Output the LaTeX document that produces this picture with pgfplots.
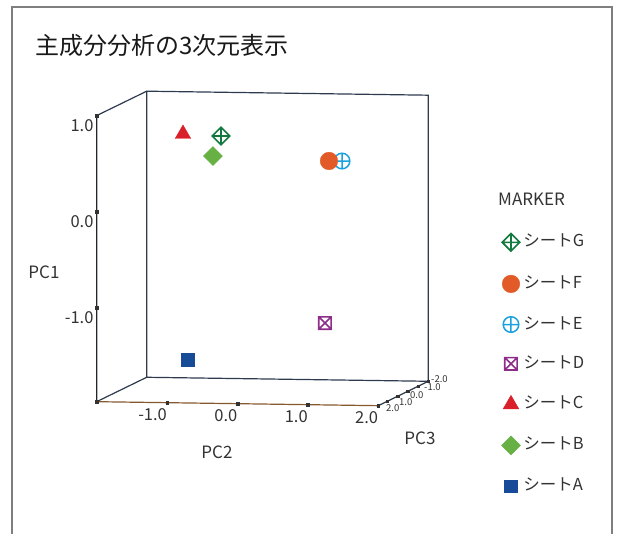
\documentclass[border=0pt]{standalone}
\usepackage{pgfplots}
\pgfplotsset{compat=1.18}
\usepackage{fontspec}
\setmainfont{Noto Sans CJK JP}
\usetikzlibrary{calc}

\definecolor{cA}{HTML}{174A97}
\definecolor{cB}{HTML}{66B044}
\definecolor{cC}{HTML}{D9202A}
\definecolor{cD}{HTML}{8E2C8A}
\definecolor{cE}{HTML}{1BA1DD}
\definecolor{cF}{HTML}{E15A27}
\definecolor{cG}{HTML}{137A3F}
\definecolor{boxc}{HTML}{2E3A4E}
\definecolor{txt}{HTML}{333333}
\definecolor{framec}{HTML}{7F7F7F}

\pgfdeclareplotmark{dplus}{%
  \pgfpathmoveto{\pgfqpoint{0pt}{\pgfplotmarksize}}%
  \pgfpathlineto{\pgfqpoint{\pgfplotmarksize}{0pt}}%
  \pgfpathlineto{\pgfqpoint{0pt}{-\pgfplotmarksize}}%
  \pgfpathlineto{\pgfqpoint{-\pgfplotmarksize}{0pt}}%
  \pgfpathclose
  \pgfpathmoveto{\pgfqpoint{0pt}{\pgfplotmarksize}}%
  \pgfpathlineto{\pgfqpoint{0pt}{-\pgfplotmarksize}}%
  \pgfpathmoveto{\pgfqpoint{\pgfplotmarksize}{0pt}}%
  \pgfpathlineto{\pgfqpoint{-\pgfplotmarksize}{0pt}}%
  \pgfusepathqstroke}
\pgfdeclareplotmark{sqx}{%
  \pgfpathrectangle{\pgfqpoint{-\pgfplotmarksize}{-\pgfplotmarksize}}{\pgfqpoint{2\pgfplotmarksize}{2\pgfplotmarksize}}%
  \pgfpathmoveto{\pgfqpoint{-\pgfplotmarksize}{-\pgfplotmarksize}}%
  \pgfpathlineto{\pgfqpoint{\pgfplotmarksize}{\pgfplotmarksize}}%
  \pgfpathmoveto{\pgfqpoint{-\pgfplotmarksize}{\pgfplotmarksize}}%
  \pgfpathlineto{\pgfqpoint{\pgfplotmarksize}{-\pgfplotmarksize}}%
  \pgfusepathqstroke}

\pgfplotsset{
  mA/.style={only marks, mark=square*, mark size=6.4pt, color=cA},
  mB/.style={only marks, mark=square*, mark size=6.7pt, mark options={rotate=45}, color=cB},
  mC/.style={only marks, mark=triangle*, mark size=9pt, color=cC},
  mD/.style={only marks, mark=sqx, mark size=6.2pt, mark options={line width=1.6pt}, color=cD},
  mE/.style={only marks, mark=oplus, mark size=7.8pt, mark options={line width=1.5pt}, color=cE},
  mF/.style={only marks, mark=*, mark size=8.8pt, mark options={draw=cF, fill=cF}, color=cF},
  mG/.style={only marks, mark=dplus, mark size=8.8pt, mark options={line width=1.6pt}, color=cG},
}

\begin{document}
\begin{tikzpicture}
% ---------- 3D plot: x = PC2, y = PC3 (depth), z = PC1 ----------
\begin{axis}[
  x={(70.4pt,-1.0pt)}, y={(-10.25pt,-5.0pt)}, z={(0pt,96pt)},
  xmin=-2, xmax=2, ymin=-2, ymax=2.88, zmin=-1.98, zmax=1,
  hide axis, clip=false,
]
\coordinate (O) at (axis cs:0,0,0);
% box (background planes)
\addplot3[boxc, line width=1.2pt, mark=none] coordinates {
  (-2,-2,-1.98) (2,-2,-1.98) (2,-2,1) (-2,-2,1) (-2,-2,-1.98)};
\addplot3[boxc, line width=1.2pt, mark=none] coordinates {
  (-2,-2,1) (-2,2.88,1) (-2,2.88,-1.98) (-2,-2,-1.98)};
\addplot3[black!85, line width=1.2pt, mark=none] coordinates {
  (-2,2.88,1) (-2,2.88,-1.98)};
\addplot3[boxc, line width=1.2pt, mark=none] coordinates {
  (2,2.88,-1.98) (2,-2,-1.98)};
\addplot3[brown!70!black, line width=1.2pt, mark=none] coordinates {
  (-2,2.88,-1.98) (2,2.88,-1.98)};
% tick marks
\addplot3[only marks, mark=square*, mark size=1.3pt, color=black!80] coordinates {
  (-2,2.88,1) (-2,2.88,0) (-2,2.88,-1) (-2,2.88,-1.98)
  (-1,2.88,-1.98) (0,2.88,-1.98) (1,2.88,-1.98) (2,2.88,-1.98)
  (2,2,-1.98) (2,1,-1.98) (2,0,-1.98) (2,-1,-1.98) (2,-2,-1.98)};
% tick labels
\begin{scope}[every node/.style={font=\fontsize{16.5}{18}\selectfont, text=txt, inner sep=0pt}]
\node[anchor=north east] at ($(axis cs:-2,2.88,1)+(-3pt,-4pt)$) {1.0};
\node[anchor=north east] at ($(axis cs:-2,2.88,0)+(-3pt,-4pt)$) {0.0};
\node[anchor=north east] at ($(axis cs:-2,2.88,-1)+(-3pt,-4pt)$) {-1.0};
\node[anchor=north east] at ($(axis cs:-1,2.88,-1.98)+(0pt,-6pt)$) {-1.0};
\node[anchor=north east] at ($(axis cs:0,2.88,-1.98)+(0pt,-6pt)$) {0.0};
\node[anchor=north east] at ($(axis cs:1,2.88,-1.98)+(0pt,-6pt)$) {1.0};
\node[anchor=north east] at ($(axis cs:2,2.88,-1.98)+(0pt,-6pt)$) {2.0};
\end{scope}
% data (PC2, PC3, PC1)
\addplot3[mA] coordinates {(-0.903,1.5,-1.606)};
\addplot3[mB] coordinates {(-0.840,-0.5,0.415)};
\addplot3[mC] coordinates {(-1.077,0.8,0.710)};
\addplot3[mD] coordinates {(0.678,-1.0,-1.335)};
\addplot3[mE] coordinates {(1.240,1.2,0.473)};
\addplot3[mF] coordinates {(1.026,1.0,0.461)};
\addplot3[mG] coordinates {(-0.828,-1.2,0.587)};
\end{axis}

% ---------- overlay: frame, title, labels, legend (pixel coordinates, y up) ----------
\begin{axis}[
  at={($(O)+(-267pt,-334.8pt)$)}, anchor=south west,
  scale only axis, width=617pt, height=534pt,
  xmin=0, xmax=617, ymin=0, ymax=534,
  hide axis, clip=false,
  legend cell align=left,
  legend style={
    at={(0.8128,0.5627)}, anchor=north west,
    draw=none, fill=none, inner sep=0pt, outer sep=0pt,
    row sep=24pt, column sep=3pt,
    font=\fontsize{16.5}{18}\selectfont, text=txt,
    nodes={inner sep=0pt, text height=12pt, text depth=3pt},
  },
]
\addlegendimage{mG}\addlegendentry{シートG}
\addlegendimage{mF}\addlegendentry{シートF}
\addlegendimage{mE}\addlegendentry{シートE}
\addlegendimage{mD}\addlegendentry{シートD}
\addlegendimage{mC}\addlegendentry{シートC}
\addlegendimage{mB}\addlegendentry{シートB}
\addlegendimage{mA}\addlegendentry{シートA}
\draw[framec, line width=1.5pt] (axis cs:12,0) -- (axis cs:12,527) -- (axis cs:612,527) -- (axis cs:612,0);
\node[anchor=west, inner sep=0pt, text=black!90, font=\fontsize{24}{27}\selectfont] at (axis cs:35,489) {主成分分析の3次元表示};
\node[anchor=west, inner sep=0pt, text=txt, font=\fontsize{17}{19}\selectfont] at (axis cs:498,335) {MARKER};
\node[inner sep=0pt, text=txt, font=\fontsize{17}{19}\selectfont] at (axis cs:44,262) {PC1};
\node[inner sep=0pt, text=txt, font=\fontsize{17}{19}\selectfont] at (axis cs:217,82) {PC2};
\node[inner sep=0pt, text=txt, font=\fontsize{17}{19}\selectfont] at (axis cs:420,96) {PC3};
% PC3 tick labels (small, crowded as in the reference)
\begin{scope}[every node/.style={font=\fontsize{9.5}{10}\selectfont, text=txt, inner sep=0pt, anchor=west}]
\node at (axis cs:386,125.5) {2.0};
\node at (axis cs:399,132) {1.0};
\node at (axis cs:410,139) {0.0};
\node at (axis cs:424,146.5) {-1.0};
\node at (axis cs:431,155) {-2.0};
\end{scope}
\end{axis}
\pgfresetboundingbox
\path[use as bounding box] ($(O)+(-267pt,-334.8pt)$) rectangle ($(O)+(350pt,199.2pt)$);
\end{tikzpicture}
\end{document}
